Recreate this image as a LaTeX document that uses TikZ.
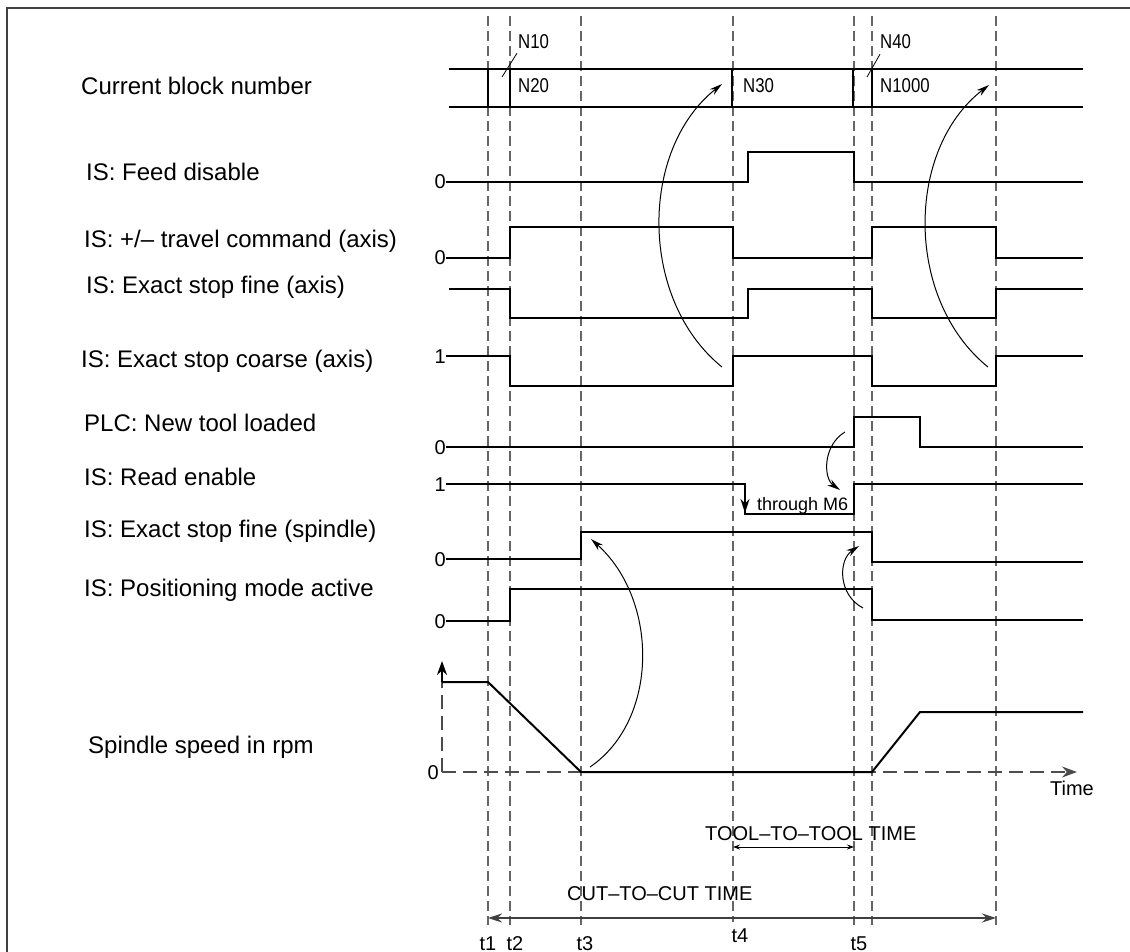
\documentclass[tikz,border=0pt]{standalone}
\usepackage{fontspec}
\setmainfont{Liberation Sans}
\newfontfamily\narrowfont[FakeStretch=0.84]{Liberation Sans}
\usetikzlibrary{arrows.meta,positioning}

\begin{document}
\begin{tikzpicture}[
  x=1pt, y=-1pt,
  >=Stealth,
  wave/.style={line width=2pt, line join=miter},
  timeline/.style={line width=1.1pt, black!60, dash pattern=on 10pt off 5pt},
  axisline/.style={line width=1.1pt, black!70, dash pattern=on 14pt off 7pt},
  cause/.style={line width=1pt, -{Stealth[length=13pt,width=7pt]}},
  leader/.style={line width=0.8pt},
  signame/.style={font=\fontsize{24}{28}\selectfont, anchor=west, inner sep=0pt, text height=17pt, text depth=0pt},
  lvl/.style={font=\fontsize{20}{24}\selectfont, anchor=east, inner sep=0pt, text height=14pt, text depth=0pt},
  blk/.style={font=\narrowfont\fontsize{20}{24}\selectfont, anchor=west, inner sep=0pt, text height=14pt, text depth=0pt},
  span/.style={font=\fontsize{20}{24}\selectfont, anchor=west, inner sep=0pt, text height=14pt, text depth=0pt},
  tlbl/.style={font=\fontsize{20}{24}\selectfont, inner sep=0pt, text height=14pt, text depth=0pt},
]
  \useasboundingbox (0,0) rectangle (1130,952);

  % Frame
  \draw[line width=2pt, black!75] (7,952) -- (7,8) -- (1130,8);

  % Time instants
  \draw[timeline] (488,16) -- (488,925);
  \draw[timeline] (510,16) -- (510,925);
  \draw[timeline] (581,16) -- (581,925);
  \draw[timeline] (733,16) -- (733,922);
  \draw[timeline] (854,16) -- (854,925);
  \draw[timeline] (872,16) -- (872,925);
  \draw[timeline] (996,16) -- (996,925);

  % Signal names
  \node[signame] (lblock) at (81,86) {Current block number};
  \node[signame] (lfeed) at (86,172) {IS: Feed disable};
  \node[signame] (ltravel) at (84,239) {IS: +/– travel command (axis)};
  \node[signame] (lfineax) at (86,285) {IS: Exact stop fine (axis)};
  \node[signame] (lcoarse) at (81,359) {IS: Exact stop coarse (axis)};
  \node[signame] (ltool) at (84,423) {PLC: New tool loaded};
  \node[signame] (lread) at (84,477) {IS: Read enable};
  \node[signame] (lfinesp) at (84,529) {IS: Exact stop fine (spindle)};
  \node[signame] (lpos) at (84,588) {IS: Positioning mode active};
  \node[signame] (lspeed) at (88,745) {Spindle speed in rpm};

  % Current block number
  \draw[wave] (449,69) -- (1083,69);
  \draw[wave] (449,107) -- (1083,107);
  \draw[wave] (488,69) -- (488,107);
  \draw[wave] (510,69) -- (510,107);
  \draw[wave] (732,69) -- (732,107);
  \draw[wave] (853,69) -- (853,107);
  \draw[wave] (872,69) -- (872,107);
  \node[blk] (n10) at (518,42) {N10};
  \node[blk] (n20) at (518,86) {N20};
  \node[blk] (n30) at (743,86) {N30};
  \node[blk] (n40) at (880,42) {N40};
  \node[blk] (n1000) at (880,86) {N1000};
  \coordinate (g10) at (502,77);
  \coordinate (g40) at (867,77);
  \draw[leader] (g10) -- ([shift={(-1,4)}]n10.south west);
  \draw[leader] (g40) -- ([shift={(0,5)}]n40.south west);

  % Feed disable
  \node[lvl] (zfeed) at (446,182) {0};
  \draw[wave] (zfeed.east) -- (748,182) -- (748,152) -- (854,152) -- (854,182) -- (1083,182);

  % Travel command
  \node[lvl] (ztravel) at (446,258) {0};
  \draw[wave] (ztravel.east) -- (510,258) -- (510,227) -- (733,227) -- (733,258)
    -- (872,258) -- (872,227) -- (996,227) -- (996,258) -- (1083,258);

  % Exact stop fine (axis)
  \draw[wave] (449,289) -- (510,289) -- (510,318) -- (748,318) -- (748,289)
    -- (872,289) -- (872,318) -- (996,318) -- (996,289) -- (1083,289);

  % Exact stop coarse (axis)
  \node[lvl] (zcoarse) at (446,356) {1};
  \draw[wave] (zcoarse.east) -- (510,356) -- (510,386) -- (733,386) -- (733,356)
    -- (872,356) -- (872,386) -- (996,386) -- (996,356) -- (1083,356);

  % New tool loaded
  \node[lvl] (ztool) at (446,447) {0};
  \draw[wave] (ztool.east) -- (854,447) -- (854,417) -- (920,417) -- (920,447) -- (1083,447);

  % Read enable
  \node[lvl] (zread) at (446,484) {1};
  \draw[wave] (zread.east) -- (745,484) -- (745,514) -- (854,514) -- (854,484) -- (1083,484);
  \coordinate (rdrop) at (745,484);
  \coordinate (rlow) at (745,513);
  \draw[line width=2pt, -{Stealth[length=14pt,width=9pt]}] (rdrop) -- (rlow);
  \node[span, font=\fontsize{18}{21}\selectfont, text height=13pt] (m6) at (757,504) {through M6};

  % Exact stop fine (spindle)
  \node[lvl] (zfinesp) at (446,559) {0};
  \draw[wave] (zfinesp.east) -- (581,559) -- (581,532) -- (872,532) -- (872,562) -- (1083,562);

  % Positioning mode active
  \node[lvl] (zpos) at (446,621) {0};
  \draw[wave] (zpos.east) -- (510,621) -- (510,589) -- (872,589) -- (872,620) -- (1083,620);

  % Spindle speed
  \node[lvl] (zspeed) at (439,772) {0};
  \coordinate (origin) at (442,772);
  \coordinate (ytop) at (442,661);
  \coordinate (xend) at (1077,772);
  \draw[axisline] (origin) -- (442,682);
  \draw[line width=2pt, -{Stealth[length=14pt,width=10pt]}] (442,682) -- (ytop);
  \draw[axisline, -{Stealth[length=15pt,width=11pt]}] (origin) -- (xend);
  \node[tlbl] (time) at (1072,788) {Time};
  \draw[wave] (442,682) -- (488,682) -- (581,772) -- (872,772) -- (920,712) -- (1083,712);

  % Dependencies
  \coordinate (c1s) at (722,367);
  \coordinate (c1e) at (722,84);
  \coordinate (c2s) at (988,367);
  \coordinate (c2e) at (989,85);
  \coordinate (c3s) at (590,767);
  \coordinate (c3e) at (591,539);
  \coordinate (c4s) at (863,608);
  \coordinate (c4e) at (859,546);
  \coordinate (c5s) at (845,432);
  \coordinate (c5e) at (840,490);
  \draw[cause] (c1s) .. controls (639,300) and (639,150) .. (c1e);
  \draw[cause] (c2s) .. controls (905,300) and (905,150) .. (c2e);
  \draw[cause] (c3s) .. controls (659,720) and (659,600) .. (c3e);
  \draw[cause] (c4s) .. controls (838,595) and (838,560) .. (c4e);
  \draw[cause] (c5s) .. controls (823,445) and (823,478) .. (c5e);

  % Times
  \node[span] (tooltime) at (705,833) {TOOL–TO–TOOL TIME};
  \coordinate (tt1) at (733,847);
  \coordinate (tt2) at (854,847);
  \draw[line width=1pt, {Stealth[length=7pt,width=5pt]}-{Stealth[length=7pt,width=5pt]}] (tt1) -- (tt2);
  \node[span] (cuttime) at (567,893) {CUT–TO–CUT TIME};
  \coordinate (ct1) at (488,918);
  \coordinate (ct2) at (996,918);
  \draw[line width=1.3pt, black!75, {Stealth[length=14pt,width=9pt]}-{Stealth[length=14pt,width=9pt]}] (ct1) -- (ct2);

  % Instants
  \node[tlbl] (t1) at (488,943) {t1};
  \node[tlbl] (t2) at (515,943) {t2};
  \node[tlbl] (t3) at (585,943) {t3};
  \node[tlbl] (t4) at (740,935) {t4};
  \node[tlbl] (t5) at (859,943) {t5};
\end{tikzpicture}
\end{document}
